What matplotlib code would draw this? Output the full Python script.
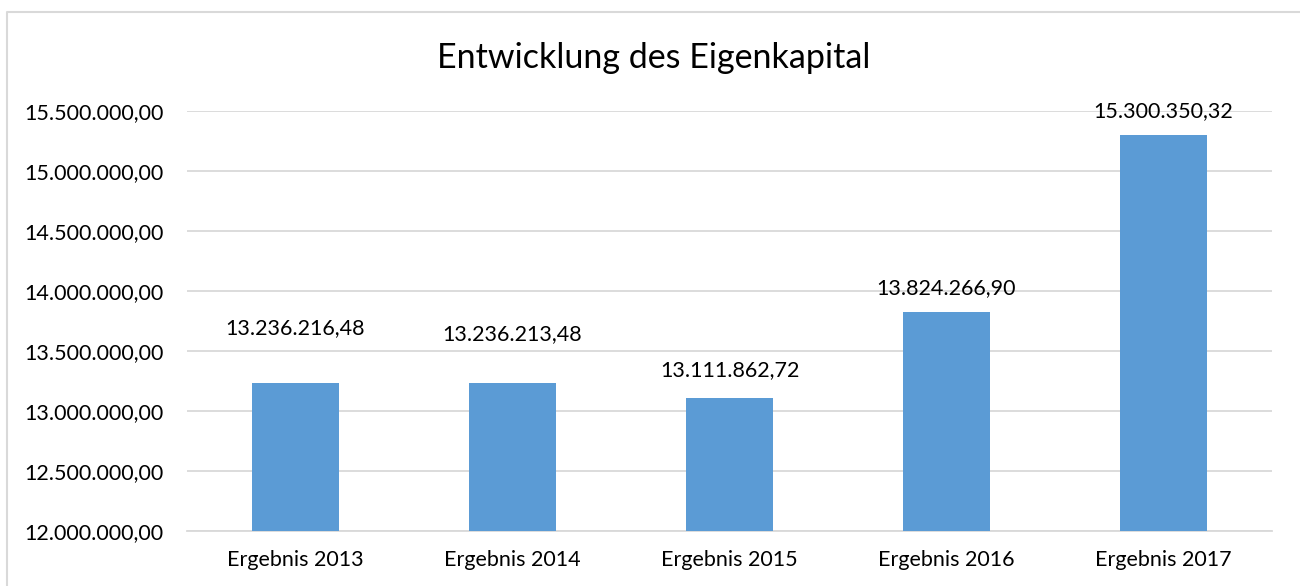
import matplotlib
matplotlib.use("Agg")
import matplotlib.pyplot as plt
import matplotlib.ticker as mticker
from matplotlib.lines import Line2D

# Chart data
categories = ["Ergebnis 2013", "Ergebnis 2014", "Ergebnis 2015",
              "Ergebnis 2016", "Ergebnis 2017"]
equity = [13236216.48, 13236213.48, 13111862.72, 13824266.90, 15300350.32]
y_ticks = [12000000, 12500000, 13000000, 13500000,
           14000000, 14500000, 15000000, 15500000]

# label offsets above bar top (points), some labels were moved by hand
label_offsets = [39, 35, 19.5, 17.5, 17.5]

BAR_COLOR = "#5B9BD5"
GRID_COLOR = "#D9D9D9"
FONT = "Lato"
FS = 15.5


def de_format(v, decimals=2):
    """German number format: 1.234.567,89"""
    s = f"{v:,.{decimals}f}"
    return s.replace(",", "X").replace(".", ",").replace("X", ".")


W, H = 1300, 586
fig = plt.figure(figsize=(W / 100, H / 100), dpi=100)
fig.patch.set_facecolor("white")

# plot area in pixel coordinates
left, right, top, bottom = 187, 1272, 111, 531
ax = fig.add_axes([left / W, 1 - bottom / H, (right - left) / W, (bottom - top) / H])

x = list(range(len(categories)))
ax.bar(x, [v - y_ticks[0] for v in equity], bottom=y_ticks[0],
       width=0.4, color=BAR_COLOR, zorder=3)

ax.set_xlim(-0.5, len(categories) - 0.5)
ax.set_ylim(y_ticks[0], y_ticks[-1])
ax.set_yticks(y_ticks)
ax.yaxis.set_major_formatter(mticker.FuncFormatter(lambda v, _: de_format(v)))
ax.set_xticks(x)
ax.set_xticklabels(categories)

ax.grid(axis="y", color=GRID_COLOR, linewidth=1.3, zorder=0)
ax.set_axisbelow(True)
for side in ["top", "right", "left"]:
    ax.spines[side].set_visible(False)
ax.spines["bottom"].set_color(GRID_COLOR)
ax.spines["bottom"].set_linewidth(1.3)
ax.tick_params(axis="both", length=0, labelsize=FS, colors="#000000")
ax.tick_params(axis="y", pad=17)
ax.tick_params(axis="x", pad=14)
for lbl in ax.get_xticklabels() + ax.get_yticklabels():
    lbl.set_fontfamily(FONT)

# data labels
for xi, v, off in zip(x, equity, label_offsets):
    ax.annotate(de_format(v), (xi, v), xytext=(0, off), textcoords="offset points",
                ha="center", va="center", fontsize=FS, family=FONT, color="#000000")

fig.text(654 / W, 1 - 58 / H, "Entwicklung des Eigenkapital",
         ha="center", va="center", fontsize=24.5, family=FONT, color="#000000")

# chart frame (top and left edges visible)
fig.add_artist(Line2D([7 / W, 7 / W, 1.0], [0.0, 1 - 12 / H, 1 - 12 / H],
                      transform=fig.transFigure, color="#D9D9D9", linewidth=1.5))

fig.savefig("out.png", dpi=100, facecolor=fig.get_facecolor())
